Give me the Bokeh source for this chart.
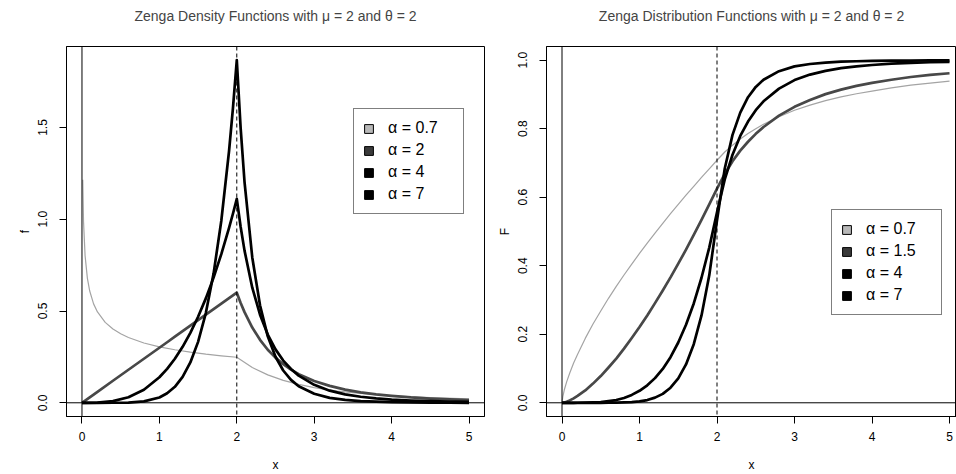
from bokeh.plotting import figure
from bokeh.layouts import row
from bokeh.models import (Range1d, Span, Legend, LegendItem, FixedTicker,
                          PrintfTickFormatter, Title)
from bokeh.embed import file_html
from bokeh.resources import INLINE

FONT = "Liberation Sans"

# ---------------- data ----------------
mu = 2
x_ticks = [0, 1, 2, 3, 4, 5]
dens_yticks = [0.0, 0.5, 1.0, 1.5]
cdf_yticks = [0.0, 0.2, 0.4, 0.6, 0.8, 1.0]

dens_labels = ["α = 0.7", "α = 2", "α = 4", "α = 7"]
cdf_labels = ["α = 0.7", "α = 1.5", "α = 4", "α = 7"]

x_dens = [0, 0.2, 0.4, 0.6, 0.8, 1.0, 1.1, 1.2, 1.3, 1.4, 1.5, 1.6, 1.7, 1.8, 1.9, 1.95,
          2.0, 2.05, 2.1, 2.2, 2.3, 2.4, 2.5, 2.6, 2.7, 2.8, 3.0, 3.2, 3.4, 3.6, 3.8, 4.0,
          4.25, 4.5, 4.75, 5.0]
dens_a2 = [0, 0.06, 0.12, 0.18, 0.24, 0.30, 0.33, 0.36, 0.39, 0.42, 0.45, 0.48, 0.51, 0.54,
           0.57, 0.585, 0.60, 0.544, 0.494, 0.410, 0.343, 0.289, 0.246, 0.210, 0.181, 0.156,
           0.119, 0.092, 0.072, 0.057, 0.046, 0.038, 0.029, 0.023, 0.019, 0.015]
dens_a4 = [0, 0.001, 0.009, 0.030, 0.071, 0.139, 0.185, 0.240, 0.305, 0.381, 0.469, 0.569,
           0.682, 0.810, 0.953, 1.030, 1.111, 0.958, 0.829, 0.627, 0.480, 0.372, 0.291,
           0.230, 0.184, 0.148, 0.098, 0.066, 0.046, 0.033, 0.024, 0.017, 0.012, 0.009,
           0.006, 0.005]
dens_a7 = [0, 0.0, 0.0001, 0.001, 0.008, 0.029, 0.052, 0.087, 0.141, 0.220, 0.332, 0.489,
           0.704, 0.992, 1.372, 1.604, 1.867, 1.495, 1.203, 0.792, 0.531, 0.362, 0.251,
           0.176, 0.125, 0.090, 0.049, 0.027, 0.016, 0.009, 0.006, 0.004, 0.002, 0.001,
           0.001, 0.0]
x_dens_a07 = [0.01, 0.02, 0.04, 0.07, 0.1, 0.15, 0.2, 0.3, 0.4, 0.5, 0.6, 0.8, 1.0, 1.2,
              1.4, 1.6, 1.8, 2.0, 2.2, 2.4, 2.6, 2.8, 3.0, 3.3, 3.6, 4.0, 4.5, 5.0]
dens_a07 = [1.215, 0.987, 0.802, 0.678, 0.609, 0.539, 0.495, 0.438, 0.402, 0.376, 0.356,
            0.326, 0.305, 0.289, 0.276, 0.265, 0.256, 0.248, 0.192, 0.152, 0.122, 0.100,
            0.083, 0.064, 0.051, 0.038, 0.028, 0.021]

x_cdf = [0, 0.01, 0.03, 0.06, 0.1, 0.15, 0.2, 0.3, 0.4, 0.5, 0.6, 0.7, 0.8, 0.9, 1.0, 1.1,
         1.2, 1.3, 1.4, 1.5, 1.6, 1.7, 1.8, 1.9, 2.0, 2.1, 2.2, 2.3, 2.4, 2.5, 2.6, 2.8, 3.0,
         3.2, 3.4, 3.6, 3.8, 4.0, 4.25, 4.5, 4.75, 5.0]
cdf_a07 = [0, 0.017, 0.038, 0.061, 0.087, 0.116, 0.141, 0.188, 0.230, 0.268, 0.305, 0.340,
           0.373, 0.405, 0.436, 0.466, 0.495, 0.524, 0.552, 0.579, 0.606, 0.632, 0.658,
           0.683, 0.708, 0.732, 0.752, 0.770, 0.786, 0.800, 0.813, 0.835, 0.854, 0.869,
           0.882, 0.893, 0.902, 0.910, 0.919, 0.927, 0.933, 0.939]
cdf_a15 = [0, 0.0002, 0.001, 0.003, 0.007, 0.013, 0.020, 0.036, 0.056, 0.078, 0.103, 0.129,
           0.158, 0.189, 0.221, 0.255, 0.291, 0.328, 0.366, 0.406, 0.447, 0.490, 0.534,
           0.579, 0.625, 0.668, 0.705, 0.736, 0.762, 0.785, 0.805, 0.838, 0.864, 0.884,
           0.901, 0.914, 0.925, 0.934, 0.943, 0.951, 0.957, 0.962]
cdf_a4 = [0, 0, 0, 0, 0, 0, 0.0001, 0.0003, 0.001, 0.002, 0.005, 0.008, 0.014, 0.023, 0.035,
          0.051, 0.072, 0.099, 0.133, 0.176, 0.228, 0.290, 0.365, 0.453, 0.556, 0.652, 0.724,
          0.779, 0.821, 0.854, 0.880, 0.917, 0.942, 0.958, 0.969, 0.977, 0.982, 0.986, 0.990,
          0.992, 0.994, 0.995]
cdf_a7 = [0, 0, 0, 0, 0, 0, 0, 0, 0, 0, 0.0001, 0.0003, 0.001, 0.002, 0.004, 0.008, 0.015,
          0.026, 0.044, 0.071, 0.112, 0.171, 0.255, 0.372, 0.533, 0.684, 0.782, 0.847, 0.892,
          0.922, 0.943, 0.968, 0.982, 0.989, 0.993, 0.996, 0.997, 0.998, 0.999, 0.999,
          0.9995, 0.9997]

# ---------------- styles ----------------
line_colors = ["#a4a4a4", "#484848", "#000000", "#000000"]
line_widths = [1.2, 2.7, 2.7, 2.7]
box_colors = ["#b8b8b8", "#3a3a3a", "#000000", "#000000"]


def make_fig(title, ylabel, width, xr, yr, yticks, min_left, min_right):
    p = figure(width=width, height=474, output_backend="svg", toolbar_location=None,
               x_range=Range1d(*xr), y_range=Range1d(*yr),
               min_border_left=min_left, min_border_right=min_right,
               min_border_top=46, min_border_bottom=57,
               background_fill_color="white", border_fill_color="white")
    # invisible spacer between frame and title
    p.add_layout(Title(text=" ", text_font=FONT, text_font_size="10px", standoff=10),
                 "above")
    p.title.text = title
    p.title.text_font = FONT
    p.title.text_font_size = "14px"
    p.title.text_font_style = "normal"
    p.title.align = "center"
    p.title.standoff = 0
    p.grid.visible = False
    p.outline_line_color = "black"
    p.outline_line_width = 1
    p.outline_line_alpha = 1

    p.xaxis.ticker = FixedTicker(ticks=x_ticks)
    p.yaxis.ticker = FixedTicker(ticks=yticks)
    p.yaxis.formatter = PrintfTickFormatter(format="%.1f")
    p.yaxis.major_label_orientation = "vertical"
    for ax in (p.xaxis, p.yaxis):
        ax.axis_line_color = "black"
        ax.major_tick_line_color = "black"
        ax.major_tick_out = 7
        ax.major_tick_in = 0
        ax.minor_tick_line_color = None
        ax.major_label_text_font = FONT
        ax.major_label_text_font_size = "12px"
        ax.major_label_text_color = "black"
        ax.axis_label_text_font = FONT
        ax.axis_label_text_font_size = "12px"
        ax.axis_label_text_font_style = "normal"
        ax.axis_label_text_color = "black"
    p.xaxis.axis_label = "x"
    p.xaxis.major_label_standoff = 8
    p.xaxis.axis_label_standoff = 14
    p.yaxis.axis_label = ylabel
    p.yaxis.major_label_standoff = 12
    p.yaxis.axis_label_standoff = 4

    p.add_layout(Span(location=0, dimension="height", line_color="black", line_width=1))
    p.add_layout(Span(location=0, dimension="width", line_color="black", line_width=1))
    p.add_layout(Span(location=mu, dimension="height", line_color="black", line_width=1,
                      line_dash="4 3"))
    return p


def add_legend(p, labels, loc):
    items = []
    for lab, col in zip(labels, box_colors):
        r = p.quad(left=[-10], right=[-9.9], bottom=[-10], top=[-9.9],
                   fill_color=col, line_color="black", line_width=1)
        items.append(LegendItem(label=lab, renderers=[r]))
    lg = Legend(items=items, location=loc, padding=9, spacing=2, margin=0,
                glyph_width=11, glyph_height=11, label_height=20, label_width=66,
                label_standoff=14,
                label_text_font=FONT, label_text_font_size="16px",
                label_text_color="black",
                border_line_color="black", border_line_width=1,
                background_fill_color="white", background_fill_alpha=1)
    p.add_layout(lg)


# ---------------- left: densities ----------------
p1 = make_fig("Zenga Density Functions with μ = 2 and θ = 2", "f", 490,
              (-0.2, 5.2), (-0.0747, 1.9414), dens_yticks, 66, 6)
p1.line(x_dens_a07, dens_a07, line_color=line_colors[0], line_width=line_widths[0],
        line_join="round")
for ys, c, w in zip([dens_a2, dens_a4, dens_a7], line_colors[1:], line_widths[1:]):
    p1.line(x_dens, ys, line_color=c, line_width=w, line_join="round")
add_legend(p1, dens_labels, (287, 202))

# ---------------- right: distribution functions ----------------
p2 = make_fig("Zenga Distribution Functions with μ = 2 and θ = 2", "F", 466,
              (-0.2, 5.09), (-0.04, 1.04), cdf_yticks, 56, 0)
for ys, c, w in zip([cdf_a07, cdf_a15, cdf_a4, cdf_a7], line_colors, line_widths):
    p2.line(x_cdf, ys, line_color=c, line_width=w, line_join="round")
add_legend(p2, cdf_labels, (285, 101))

layout = row(p1, p2, spacing=0)
open("out.html", "w").write(file_html(layout, INLINE))
